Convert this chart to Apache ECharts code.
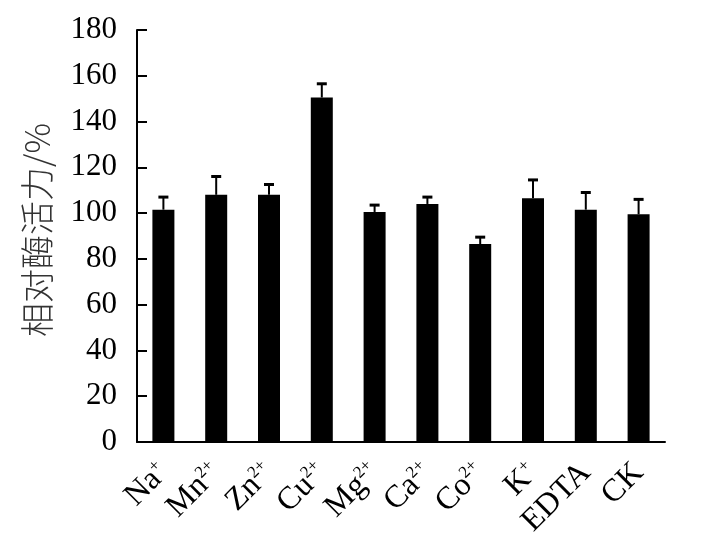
<!DOCTYPE html>
<html>
<head>
<meta charset="utf-8">
<script src="https://cdn.jsdelivr.net/npm/echarts@6/dist/echarts.min.js"></script>
<style>
html,body{margin:0;padding:0;background:#fff;}
#main{width:702px;height:549px;}
</style>
</head>
<body>
<div id="main"></div>
<script>
const categories = ['Na{s|+}', 'Mn{s|2+}', 'Zn{s|2+}', 'Cu{s|2+}', 'Mg{s|2+}', 'Ca{s|2+}', 'Co{s|2+}', 'K{s|+}', 'EDTA', 'CK'];
const values = [101.5, 108, 108, 150.5, 100.5, 104, 86.5, 106.5, 101.5, 99.5];
const errors = [5.5, 8, 4.5, 6, 3, 3, 3, 8, 7.5, 6.5];
const yTicks = [0, 20, 40, 60, 80, 100, 120, 140, 160, 180];

const chart = echarts.init(document.getElementById('main'));
const serif = 'Liberation Serif';

chart.setOption({
  animation: false,
  backgroundColor: '#fff',
  grid: { left: 137, right: 37, top: 30, bottom: 107 },
  xAxis: {
    type: 'category',
    data: categories,
    axisLine: { lineStyle: { color: '#000', width: 2 } },
    axisTick: { show: false },
    axisLabel: {
      rotate: 45,
      margin: 26,
      interval: 0,
      color: '#000',
      fontFamily: serif,
      fontSize: 32,
      rich: {
        s: { fontFamily: serif, fontSize: 17, verticalAlign: 'top', color: '#000' }
      }
    }
  },
  yAxis: {
    type: 'value',
    min: yTicks[0],
    max: yTicks[yTicks.length - 1],
    interval: 20,
    name: '相对酶活力/%',
    nameLocation: 'middle',
    nameGap: 83,
    nameTextStyle: { fontFamily: 'Noto Sans CJK SC', fontSize: 34, color: '#333', fontWeight: 300, padding: [0, 0, 0, 12] },
    axisLine: { show: true, lineStyle: { color: '#000', width: 2 } },
    axisTick: { show: true, inside: true, length: 10, lineStyle: { color: '#000', width: 2 } },
    splitLine: { show: false },
    axisLabel: { margin: 20, color: '#000', fontFamily: serif, fontSize: 31 }
  },
  series: [
    {
      type: 'bar',
      data: values,
      barWidth: 22,
      itemStyle: { color: '#000' }
    },
    {
      type: 'custom',
      data: values.map((v, i) => [i, v, v + errors[i]]),
      renderItem: function (params, api) {
        const p0 = api.coord([api.value(0), api.value(1)]);
        const p1 = api.coord([api.value(0), api.value(2)]);
        const hw = 5;
        return {
          type: 'group',
          children: [
            { type: 'line', shape: { x1: p0[0], y1: p0[1], x2: p1[0], y2: p1[1] }, style: { stroke: '#000', lineWidth: 2 } },
            { type: 'line', shape: { x1: p1[0] - hw, y1: p1[1], x2: p1[0] + hw, y2: p1[1] }, style: { stroke: '#000', lineWidth: 3 } }
          ]
        };
      },
      z: 3
    }
  ]
});
</script>
</body>
</html>
